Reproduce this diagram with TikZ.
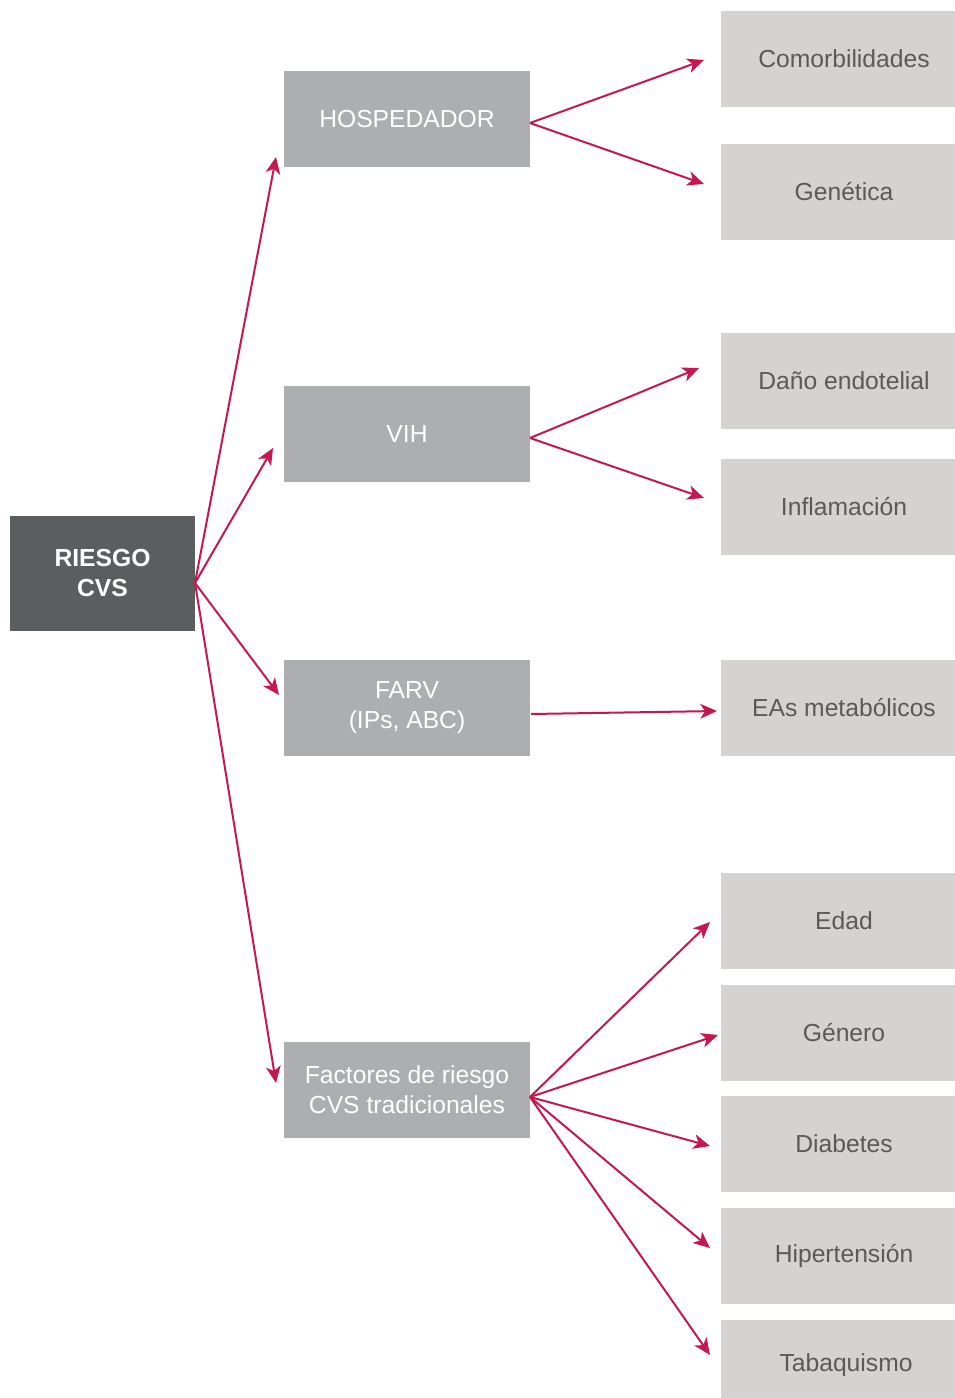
\documentclass[tikz,border=0pt]{standalone}
\usepackage{fontspec}
\setmainfont{Liberation Sans}
\usetikzlibrary{arrows.meta}
\definecolor{darkbox}{HTML}{5B5E5F}
\definecolor{midbox}{HTML}{ADAEB0}
\definecolor{lightbox}{HTML}{D4D3D2}
\definecolor{lighttext}{HTML}{5A5A5A}
\definecolor{arrowred}{HTML}{C4184F}
\tikzset{
  box/.style={inner sep=0pt, outer sep=0pt, align=center,
    font=\fontsize{18.5}{22.5}\selectfont},
  rootbox/.style={box, fill=darkbox, text=white, font=\fontsize{18.5}{22.5}\selectfont\bfseries,
    minimum width=138.75pt, minimum height=86.25pt},
  midnode/.style={box, fill=midbox, text=white, minimum width=184.5pt, minimum height=72pt},
  leafnode/.style={box, fill=lightbox, text=lighttext, minimum width=184.5pt, minimum height=72pt},
  link/.style={arrowred, line width=1.5pt, -{Stealth[length=12.5pt,width=11pt,inset=3.5pt]}}
}
\begin{document}
\begin{tikzpicture}[x=0.75pt,y=-0.75pt]
\useasboundingbox (0,0) rectangle (955,1398);
\begin{scope}
\clip (0,0) rectangle (955,1398);
% root
\node[rootbox] (root) at (102.5,573.5) {RIESGO\\CVS};
% middle level
\node[midnode] (host) at (407,119) {HOSPEDADOR};
\node[midnode] (vih) at (407,434) {VIH};
\node[midnode] (farv) at (407,708) {FARV\\(IPs, ABC)};
\node[midnode] (trad) at (407,1090) {Factores de riesgo\\CVS tradicionales};
% leaves (they run past the right edge and are clipped there)
\node[leafnode] (comor) at (844,59) {Comorbilidades};
\node[leafnode] (gen) at (844,192) {Genética};
\node[leafnode] (dano) at (844,381) {Daño endotelial};
\node[leafnode] (infl) at (844,507) {Inflamación};
\node[leafnode] (eas) at (844,708) {EAs metabólicos};
\node[leafnode] (edad) at (844,921) {Edad};
\node[leafnode] (genero) at (844,1033) {Género};
\node[leafnode] (diab) at (844,1144) {Diabetes};
\node[leafnode] (hiper) at (844,1256) {Hipertensión};
\node[leafnode, anchor=north] (taba) at (844,1320) {};
\node[box, text=lighttext] (tabatext) at (846,1365) {Tabaquismo};
\end{scope}
% connector origins
\coordinate (rootout) at (195,583);
\coordinate (hostout) at (530,123);
\coordinate (vihout) at (530,438);
\coordinate (farvout) at (531,714);
\coordinate (tradout) at (530,1097);
% connector tips
\coordinate (tohost) at (276,157);
\coordinate (tovih) at (273,448);
\coordinate (tofarv) at (279,695);
\coordinate (totrad) at (276,1083);
\coordinate (tocomor) at (704,60);
\coordinate (togen) at (704,184);
\coordinate (todano) at (699,368);
\coordinate (toinfl) at (704,498);
\coordinate (toeas) at (717,711);
\coordinate (toedad) at (710,922);
\coordinate (togenero) at (718,1035);
\coordinate (todiab) at (710,1146);
\coordinate (tohiper) at (710,1248);
\coordinate (totaba) at (710,1355);
% connectors
\draw[link] (rootout) -- (tohost);
\draw[link] (rootout) -- (tovih);
\draw[link] (rootout) -- (tofarv);
\draw[link] (rootout) -- (totrad);
\draw[link] (hostout) -- (tocomor);
\draw[link] (hostout) -- (togen);
\draw[link] (vihout) -- (todano);
\draw[link] (vihout) -- (toinfl);
\draw[link] (farvout) -- (toeas);
\draw[link] (tradout) -- (toedad);
\draw[link] (tradout) -- (togenero);
\draw[link] (tradout) -- (todiab);
\draw[link] (tradout) -- (tohiper);
\draw[link] (tradout) -- (totaba);
\end{tikzpicture}
\end{document}
